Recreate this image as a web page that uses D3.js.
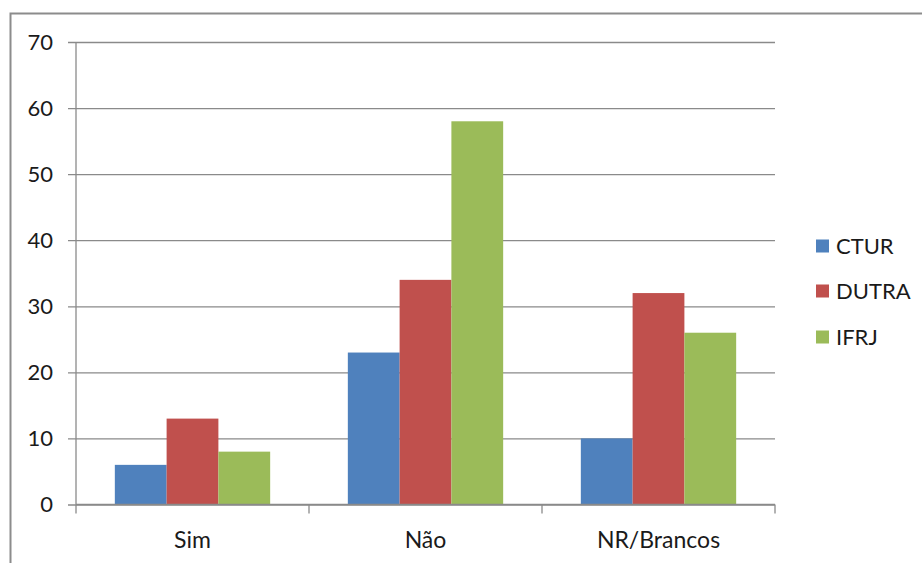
<!DOCTYPE html>
<html>
<head>
<meta charset="utf-8">
<script src="https://cdn.jsdelivr.net/npm/d3@7"></script>
<style>
  html, body { margin: 0; padding: 0; background: #fff; }
  svg { display: block; }
  text { font-family: Lato, "Open Sans", sans-serif; fill: #1a1a1a; }
</style>
</head>
<body>
<svg id="chart" width="922" height="563"></svg>
<script>
// Responses per category, one array per school
const categories = ["Sim", "Não", "NR/Brancos"];
const seriesNames = ["CTUR", "DUTRA", "IFRJ"];
const ctur = [6, 23, 10];
const dutra = [13, 34, 32];
const ifrj = [8, 58, 26];
const yTicks = [0, 10, 20, 30, 40, 50, 60, 70];
const colors = ["#4F81BD", "#C0504D", "#9BBB59"];

const seriesValues = [ctur, dutra, ifrj];

const svg = d3.select("#chart");
const W = 922, H = 563;
const plot = { left: 76, right: 775, top: 42, bottom: 504.5 };

// Outer chart frame (only the left and top edges fall inside the view)
svg.append("rect")
  .attr("x", 10.5).attr("y", 13.5)
  .attr("width", W + 20).attr("height", H + 20)
  .attr("fill", "none").attr("stroke", "#8c8c8c").attr("stroke-width", 2);

const x = d3.scaleBand().domain(categories).range([plot.left, plot.right]).paddingInner(0).paddingOuter(0);
const xs = d3.scaleBand().domain(seriesNames).range([0, x.bandwidth()]).paddingInner(0).paddingOuter(0.75);
const y = d3.scaleLinear().domain([0, 70]).range([plot.bottom, plot.top]);

// Horizontal gridlines with left tick stubs
const yAxis = d3.axisLeft(y).tickValues(yTicks).tickSize(-(plot.right - plot.left)).tickPadding(23).tickFormat(d3.format("d"));
const gy = svg.append("g").attr("transform", `translate(${plot.left},0)`).call(yAxis);
gy.select(".domain").remove();
gy.selectAll(".tick line").attr("stroke", "#8a8a8a").attr("stroke-width", 1.3).attr("x1", -8);
gy.selectAll(".tick text").attr("font-size", 22).attr("fill", "#1a1a1a")
  .style("font-family", "Lato, 'Open Sans', sans-serif");

// Bars
const groups = svg.append("g").selectAll("g")
  .data(categories)
  .join("g")
  .attr("transform", d => `translate(${x(d)},0)`);

groups.selectAll("rect")
  .data((c, i) => seriesNames.map((s, j) => ({ s, j, v: seriesValues[j][i] })))
  .join("rect")
  .attr("x", d => xs(d.s))
  .attr("width", xs.bandwidth())
  .attr("y", d => y(d.v))
  .attr("height", d => y(0) - y(d.v))
  .attr("fill", d => colors[d.j]);

// Vertical axis line
svg.append("line")
  .attr("x1", plot.left).attr("x2", plot.left)
  .attr("y1", plot.top).attr("y2", plot.bottom)
  .attr("stroke", "#8a8a8a").attr("stroke-width", 1.3);

// Category axis with boundary ticks
const gx = svg.append("g").attr("transform", `translate(0,${plot.bottom})`);
gx.append("line").attr("x1", plot.left).attr("x2", plot.right)
  .attr("stroke", "#8a8a8a").attr("stroke-width", 1.3);
const bounds = categories.map(c => x(c)).concat([plot.right]);
gx.selectAll(".bt").data(bounds).join("line")
  .attr("x1", d => d).attr("x2", d => d).attr("y1", 0).attr("y2", 9)
  .attr("stroke", "#8a8a8a").attr("stroke-width", 1.3);
gx.selectAll(".cl").data(categories).join("text")
  .attr("x", d => x(d) + x.bandwidth() / 2)
  .attr("y", 43.5)
  .attr("text-anchor", "middle")
  .attr("font-size", 23)
  .text(d => d);

// Legend
const legend = svg.append("g");
const legendY = [246, 291, 337];
seriesNames.forEach((s, i) => {
  legend.append("rect").attr("x", 816).attr("y", legendY[i] - 6.5)
    .attr("width", 13).attr("height", 13).attr("fill", colors[i]);
  legend.append("text").attr("x", 836).attr("y", legendY[i])
    .attr("dy", "0.36em").attr("font-size", 22).text(s);
});
</script>
</body>
</html>
